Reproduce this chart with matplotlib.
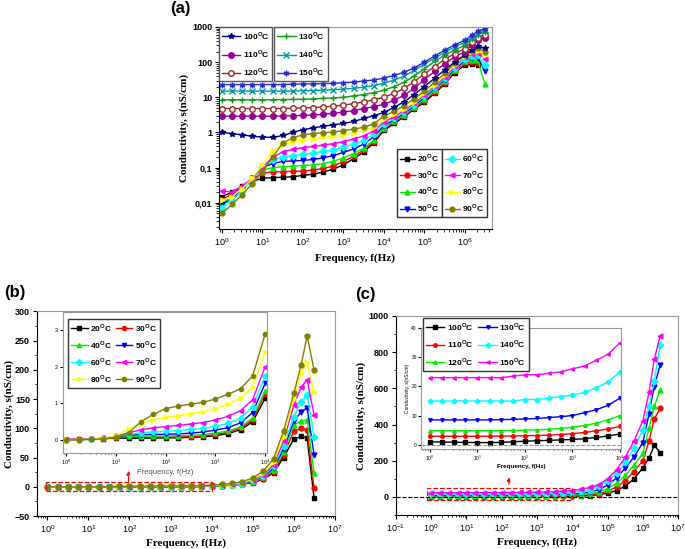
import numpy as np
import matplotlib.pyplot as plt
from matplotlib.patches import Rectangle
from matplotlib.ticker import FixedLocator, FixedFormatter, LogLocator, NullFormatter, MultipleLocator

# --- Data -------------------------------------------------------

freq = [1, 1.8, 3.2, 5.6, 10, 18, 32, 56, 100, 180, 320, 560,
        1e3, 1.8e3, 3.2e3, 5.6e3, 1e4, 1.8e4, 3.2e4, 5.6e4,
        1e5, 1.8e5, 3.2e5, 5.6e5, 1e6, 1.5e6, 2.1e6, 3.1e6]

# conductivity (nS/cm) per temperature
s20 = [0.015, 0.02, 0.03, 0.04, 0.05, 0.052, 0.053, 0.055, 0.06, 0.065, 0.075, 0.09,
       0.12, 0.18, 0.28, 0.5, 1.14, 1.8, 2.8, 4.6, 7.2, 13, 24, 50, 82, 86, 84, -19]
s30 = [0.012, 0.018, 0.028, 0.045, 0.07, 0.075, 0.077, 0.078, 0.08, 0.085, 0.095, 0.11,
       0.15, 0.21, 0.32, 0.55, 1.27, 2.0, 3.0, 5.0, 8, 14, 26, 55, 95, 100, 97, -2]
s40 = [0.01, 0.014, 0.025, 0.05, 0.085, 0.1, 0.105, 0.11, 0.115, 0.12, 0.13, 0.15,
       0.19, 0.25, 0.36, 0.6, 1.35, 2.1, 3.2, 5.3, 9, 16, 29, 60, 105, 113, 114, 24]
s50 = [0.009, 0.013, 0.025, 0.05, 0.1, 0.13, 0.15, 0.155, 0.16, 0.17, 0.19, 0.22,
       0.27, 0.34, 0.47, 0.75, 1.55, 2.3, 3.5, 5.8, 10, 18, 32, 65, 112, 128, 135, 55]
s60 = [0.007, 0.012, 0.022, 0.045, 0.1, 0.16, 0.2, 0.22, 0.24, 0.26, 0.29, 0.32,
       0.38, 0.46, 0.6, 0.9, 1.75, 2.5, 3.8, 6.2, 11, 19, 35, 70, 120, 145, 157, 85]
s70 = [0.022, 0.02, 0.03, 0.05, 0.1, 0.2, 0.28, 0.33, 0.37, 0.4, 0.44, 0.48,
       0.55, 0.65, 0.8, 1.1, 2.0, 2.8, 4.2, 6.8, 12, 21, 38, 78, 140, 170, 183, 123]
s80 = [0.012, 0.015, 0.025, 0.05, 0.12, 0.3, 0.45, 0.55, 0.62, 0.66, 0.72, 0.78,
       0.86, 0.98, 1.15, 1.45, 2.4, 3.3, 4.8, 7.5, 13, 23, 42, 85, 150, 195, 212, 162]
s90 = [0.005, 0.009, 0.017, 0.035, 0.075, 0.2, 0.5, 0.7, 0.86, 0.93, 0.98, 1.03,
       1.12, 1.25, 1.4, 1.75, 2.9, 4.0, 5.8, 9, 15, 27, 48, 95, 160, 208, 258, 200]
s100 = [1.0, 0.93, 0.85, 0.78, 0.74, 0.72, 0.82, 1.0, 1.2, 1.35, 1.5, 1.65,
        1.8, 2.05, 2.5, 3.0, 3.7, 5.2, 7.5, 12, 20, 35, 60, 100, 160, 215, 285, 245]
s110 = [2.9, 2.9, 2.9, 2.9, 2.9, 2.9, 2.95, 3, 3.05, 3.15, 3.3, 3.5,
        3.8, 4.2, 4.8, 5.4, 6.3, 8.3, 11.5, 18, 32, 55, 90, 140, 200, 310, 430, 490]
s120 = [4.8, 4.8, 4.8, 4.8, 4.8, 4.8, 4.8, 4.9, 5, 5.1, 5.3, 5.6,
        6, 6.6, 7.4, 8.5, 10, 13, 18, 28, 46, 75, 120, 175, 240, 380, 500, 590]
s130 = [8.5, 8.5, 8.5, 8.5, 8.5, 8.5, 8.6, 8.7, 8.8, 9, 9.3, 9.6,
        10, 11, 12, 13.5, 16, 20, 27, 40, 65, 105, 160, 220, 300, 460, 610, 730]
s140 = [15, 15, 15, 15, 15, 15, 15, 15, 15.5, 15.5, 16, 16.5,
        17, 18, 19.5, 21.5, 25, 31, 40, 58, 88, 130, 190, 270, 370, 500, 640, 840]
s150 = [23, 23, 23, 23, 23, 23, 23, 23.5, 24, 24, 24.5, 25,
        26, 27, 29, 31, 35, 42, 52, 68, 100, 150, 220, 310, 420, 580, 760, 890]

low_temps = [20, 30, 40, 50, 60, 70, 80, 90]
high_temps = [100, 110, 120, 130, 140, 150]
series = {20: s20, 30: s30, 40: s40, 50: s50, 60: s60, 70: s70, 80: s80, 90: s90,
          100: s100, 110: s110, 120: s120, 130: s130, 140: s140, 150: s150}

# --- Styles -----------------------------------------------------

basic_colors = ["black", "red", "#00ee00", "blue", "#00ffff", "#ff00ff", "#ffff00", "#808000"]
basic_markers = ["s", "o", "^", "v", "D", "<", ">", "o"]
a_hi_colors = ["#000080", "#990099", "#a02828", "#129a12", "#009c9c", "#2a2ad0"]
a_hi_markers = ["*", "o", "o", "+", "x", (6, 2, 0)]

sans = "Liberation Sans"
serif = "Liberation Serif"
plt.rcParams["font.family"] = sans
plt.rcParams["mathtext.fontset"] = "custom"
plt.rcParams["mathtext.rm"] = sans
plt.rcParams["xtick.direction"] = "out"
plt.rcParams["ytick.direction"] = "out"


def lab(t):
    return "%d$^{\\mathregular{O}}$C" % t


def decades(lo, hi):
    return FixedLocator([10.0 ** k for k in range(lo, hi + 1)])


x = np.array(freq)
leg_prop = {"weight": "bold", "size": 6, "family": sans}
leg_kw = dict(prop=leg_prop, fancybox=False, framealpha=1, borderaxespad=0,
              handletextpad=0.3, borderpad=0.35)

fig = plt.figure(figsize=(6.85, 5.49), dpi=100)

# --- Panel (a) --------------------------------------------------
axa = fig.add_axes([0.3197, 0.5829, 0.3985, 0.368])
lines_a = {}
for t, c, m in zip(low_temps, basic_colors, basic_markers):
    y = np.array(series[t], dtype=float)
    y[y <= 0] = np.nan
    lines_a[t], = axa.plot(x, y, color=c, marker=m, ms=3.5, lw=1, mec=c, label=lab(t))
for t, c, m in zip(high_temps, a_hi_colors, a_hi_markers):
    mfc = "white" if t == 120 else c
    lines_a[t], = axa.plot(x, series[t], color=c, marker=m, ms=4, lw=1, mec=c, mfc=mfc,
                           mew=1, label=lab(t))
axa.set_xscale("log")
axa.set_yscale("log")
axa.set_xlim(10 ** -0.07, 10 ** 6.67)
axa.set_ylim(0.0018, 1000)
axa.yaxis.set_major_locator(FixedLocator([0.01, 0.1, 1, 10, 100, 1000]))
axa.yaxis.set_major_formatter(FixedFormatter(["0,01", "0,1", "1", "10", "100", "1000"]))
axa.yaxis.set_minor_formatter(NullFormatter())
axa.xaxis.set_major_locator(decades(0, 6))
axa.xaxis.set_minor_formatter(NullFormatter())
axa.tick_params(labelsize=6.5, length=3, pad=2)
for lbl in axa.get_yticklabels():
    lbl.set_fontweight("bold")
axa.set_xlabel("Frequency, f(Hz)", family=serif, weight="bold", fontsize=8, labelpad=4)
axa.set_ylabel("Conductivity, s(nS/cm)", family=serif, weight="bold", fontsize=8, labelpad=2)
for sp in ["top", "right"]:
    axa.spines[sp].set_color("#999999")

leg1 = axa.legend([lines_a[t] for t in [100, 110, 120]], [lab(t) for t in [100, 110, 120]],
                  loc="upper left", bbox_to_anchor=(0.0, 1.0), edgecolor="#555555",
                  handlelength=2.2, labelspacing=0.75, **leg_kw)
axa.add_artist(leg1)
leg2 = axa.legend([lines_a[t] for t in [130, 140, 150]], [lab(t) for t in [130, 140, 150]],
                  loc="upper left", bbox_to_anchor=(0.203, 1.0), edgecolor="#555555",
                  handlelength=2.2, labelspacing=0.75, **leg_kw)
axa.add_artist(leg2)
leg3 = axa.legend([lines_a[t] for t in [20, 30, 40, 50]], [lab(t) for t in [20, 30, 40, 50]],
                  loc="lower right", bbox_to_anchor=(0.817, 0.06), edgecolor="#333333",
                  handlelength=1.8, labelspacing=0.55, **leg_kw)
axa.add_artist(leg3)
axa.legend([lines_a[t] for t in [60, 70, 80, 90]], [lab(t) for t in [60, 70, 80, 90]],
           loc="lower left", bbox_to_anchor=(0.817, 0.06), edgecolor="#333333",
           handlelength=1.8, labelspacing=0.55, **leg_kw)

# --- Panel (b) --------------------------------------------------
axb = fig.add_axes([0.054, 0.060, 0.435, 0.373])
for t, c, m in zip(low_temps, basic_colors, basic_markers):
    axb.plot(x, series[t], color=c, marker=m, ms=3.5, lw=1, mec=c)
axb.set_xscale("log")
axb.set_xlim(10 ** -0.25, 1e7)
axb.set_ylim(-50, 300)
axb.yaxis.set_major_locator(MultipleLocator(50))
axb.yaxis.set_minor_locator(MultipleLocator(25))
axb.xaxis.set_major_locator(decades(0, 7))
axb.xaxis.set_minor_locator(LogLocator(base=10, subs=np.arange(2, 10), numticks=12))
axb.xaxis.set_minor_formatter(NullFormatter())
axb.tick_params(labelsize=6.5, length=3, pad=2)
axb.tick_params(which="minor", length=1.5)
for lbl in axb.get_yticklabels():
    lbl.set_fontweight("bold")
axb.set_xlabel("Frequency, f(Hz)", family=serif, weight="bold", fontsize=8, labelpad=3)
axb.set_ylabel("Conductivity, s(nS/cm)", family=serif, weight="bold", fontsize=8, labelpad=1)
for sp in ["top", "right"]:
    axb.spines[sp].set_color("#999999")
axb.add_patch(Rectangle((0.93, -7), 1e4 - 0.93, 15, fill=False, ec="red", ls="--", lw=0.9, zorder=5))
axb.annotate("", xy=(95, 32), xytext=(95, 5),
             arrowprops=dict(arrowstyle="-|>", color="red", lw=0.9, ls="--", mutation_scale=5))

insb = fig.add_axes([0.092, 0.175, 0.298, 0.257])
lines_b = {}
xm = x <= 1e4
for t, c, m in zip(low_temps, basic_colors, basic_markers):
    lines_b[t], = insb.plot(x[xm], np.array(series[t])[xm], color=c, marker=m, ms=3, lw=1, mec=c)
insb.set_xscale("log")
insb.set_xlim(10 ** -0.06, 10 ** 4.04)
insb.set_ylim(-0.35, 3.5)
insb.yaxis.set_major_locator(FixedLocator([0, 1, 2, 3]))
insb.xaxis.set_major_locator(decades(0, 4))
insb.xaxis.set_minor_formatter(NullFormatter())
insb.tick_params(labelsize=4, length=2, pad=1.5)
insb.tick_params(which="minor", length=1)
for sp in insb.spines.values():
    sp.set_color("#999999")
order_b = [20, 40, 60, 80, 30, 50, 70, 90]
insb.legend([lines_b[t] for t in order_b], [lab(t) for t in order_b], ncol=2, loc="upper left",
            bbox_to_anchor=(0.025, 0.95), edgecolor="#333333", handlelength=2.0,
            labelspacing=0.6, columnspacing=0.4, **leg_kw)
fig.text(165 / 685, 1 - 472 / 549, "Frequency, f(Hz)", fontsize=5.5, color="#555555",
         ha="center", va="center")

# --- Panel (c) --------------------------------------------------
axc = fig.add_axes([0.578, 0.062, 0.412, 0.3625])
c_colors = basic_colors[:6]
c_markers = basic_markers[:6]
for t, c, m in zip(high_temps, c_colors, c_markers):
    axc.plot(x, series[t], color=c, marker=m, ms=3.5, lw=1, mec=c)
axc.axhline(0, color="black", ls="--", lw=0.8)
axc.set_xscale("log")
axc.set_xlim(0.1, 1e7)
axc.set_ylim(-100, 1000)
axc.yaxis.set_major_locator(FixedLocator([0, 200, 400, 600, 800, 1000]))
axc.yaxis.set_minor_locator(MultipleLocator(100))
axc.xaxis.set_major_locator(decades(-1, 7))
axc.xaxis.set_minor_locator(LogLocator(base=10, subs=np.arange(2, 10), numticks=12))
axc.xaxis.set_minor_formatter(NullFormatter())
axc.tick_params(labelsize=6.5, length=3, pad=2)
axc.tick_params(which="minor", length=1.5)
for lbl in axc.get_yticklabels():
    lbl.set_fontweight("bold")
axc.set_xlabel("Frequency, f(Hz)", family=serif, weight="bold", fontsize=8, labelpad=3)
axc.set_ylabel("Conductivity, s(nS/cm)", family=serif, weight="bold", fontsize=8, labelpad=2)
for sp in ["top", "right"]:
    axc.spines[sp].set_color("#999999")
axc.add_patch(Rectangle((10 ** -0.12, -15), 1e4 - 10 ** -0.12, 65, fill=False, ec="red",
                        ls="--", lw=0.9, zorder=5))
axc.annotate("", xy=(160, 125), xytext=(160, 55),
             arrowprops=dict(arrowstyle="-|>", color="red", lw=0.9, ls="--", mutation_scale=5))

insc = fig.add_axes([0.6146, 0.182, 0.292, 0.2204])
lines_c = {}
for t, c, m in zip(high_temps, c_colors, c_markers):
    lines_c[t], = insc.plot(x[xm], np.array(series[t])[xm], color=c, marker=m, ms=2.5, lw=1, mec=c)
insc.axhline(0, color="#888888", ls="--", lw=0.7)
insc.set_xscale("log")
insc.set_xlim(0.65, 1.05e4)
insc.set_ylim(-1.5, 40)
insc.yaxis.set_major_locator(FixedLocator([0, 10, 20, 30, 40]))
insc.xaxis.set_major_locator(decades(0, 4))
insc.xaxis.set_minor_formatter(NullFormatter())
insc.tick_params(labelsize=3.5, length=2, pad=1)
insc.tick_params(which="minor", length=1)
insc.set_xlabel("Frequency, f(Hz)", fontsize=4.5, weight="bold", labelpad=1)
insc.set_ylabel("Conductivity, s(nS/cm)", fontsize=3.5, labelpad=1)
for sp in insc.spines.values():
    sp.set_color("#999999")
order_c = [100, 110, 120, 130, 140, 150]
fig.legend([lines_c[t] for t in order_c], [lab(t) for t in order_c], ncol=2, loc="upper left",
           bbox_to_anchor=(423 / 685, 1 - 318 / 549), edgecolor="#333333", handlelength=2.2,
           labelspacing=0.65, columnspacing=0.6, **leg_kw)

# --- Panel letters ----------------------------------------------
fig.text(180 / 685, 1 - 9 / 549, "(a)", fontsize=12, weight="bold", ha="center", va="center")
fig.text(15 / 685, 1 - 293 / 549, "(b)", fontsize=12, weight="bold", ha="center", va="center")
fig.text(365 / 685, 1 - 294 / 549, "(c)", fontsize=12, weight="bold", ha="center", va="center")

fig.savefig("out.png", dpi=100)
